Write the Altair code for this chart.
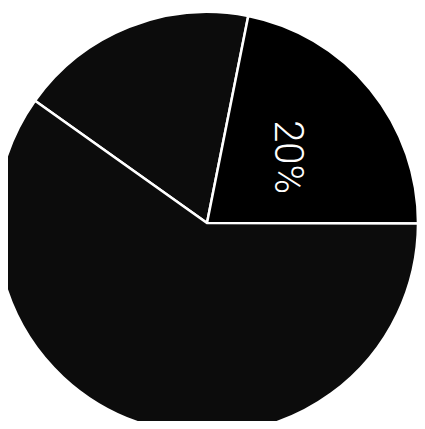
import altair as alt
import pandas as pd

# slices in clockwise order starting from the upper-left separator
categories = ["B", "A", "C"]
shares = [18.3, 21.9, 59.8]
labels = ["", "20%", ""]
colors = ["#0c0c0c", "#000000", "#0c0c0c"]

df = pd.DataFrame({"cat": categories, "share": shares, "label": labels,
                   "order": [0, 1, 2]})

start = -0.953  # radians, angle of the first separator
theta_scale = alt.Scale(range=[start, start + 6.283185307])

base = alt.Chart(df).encode(
    theta=alt.Theta("share:Q", stack=True, scale=theta_scale),
    order=alt.Order("order:Q"),
    x=alt.value(199),
    y=alt.value(215),
)

pie = base.mark_arc(outerRadius=211, stroke="white", strokeWidth=2.5).encode(
    color=alt.Color("cat:N", scale=alt.Scale(domain=categories, range=colors), legend=None)
)

text = base.mark_text(radius=104, angle=90, font="Roboto", fontWeight=300,
                      fontSize=40, color="white", align="center",
                      baseline="middle").encode(text="label:N")

chart = (pie + text).properties(
    width=409, height=413, padding=0,
    autosize=alt.AutoSizeParams(type="none")
).configure_view(stroke=None)

chart.save("out.html", embed_options={"renderer": "svg", "actions": False})
